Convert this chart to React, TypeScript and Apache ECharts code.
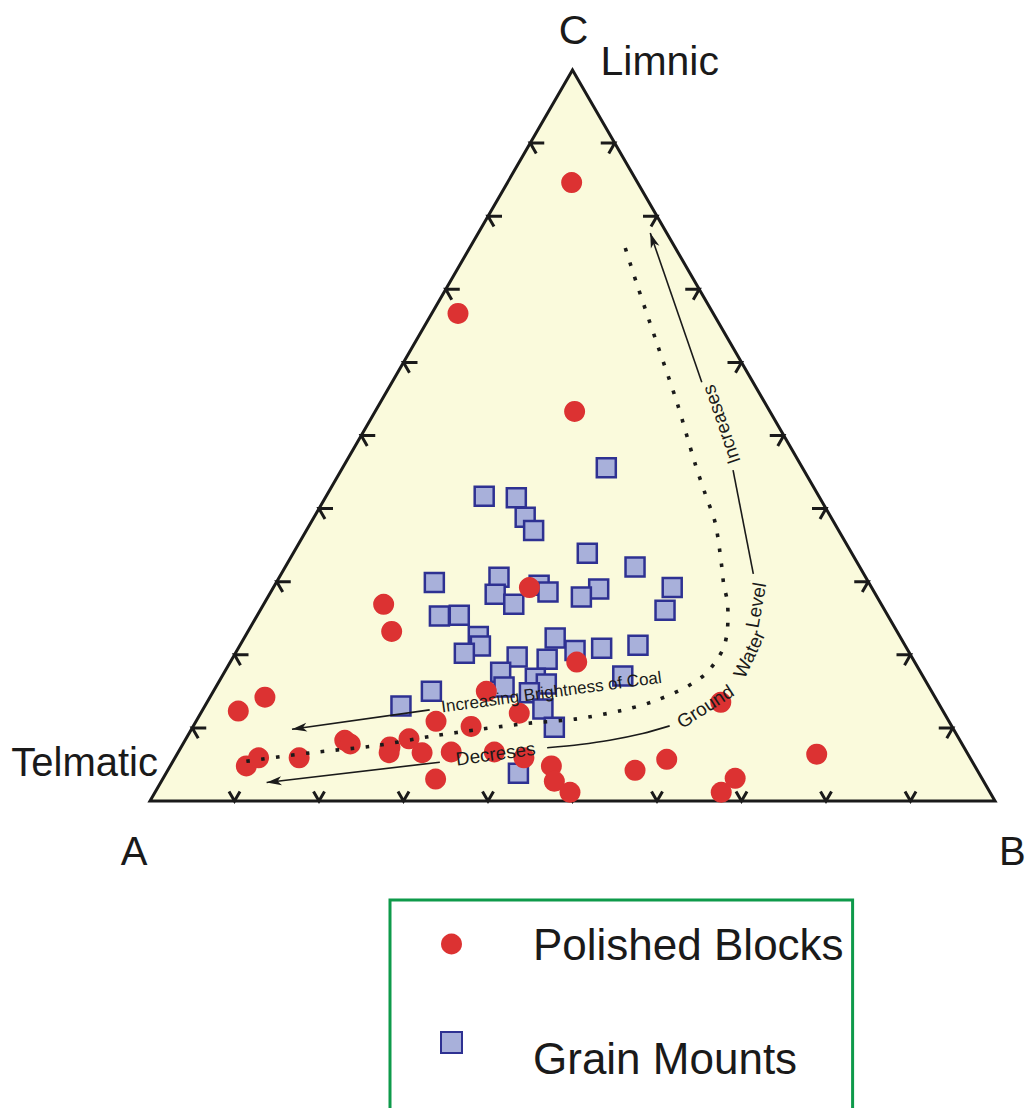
import React, { useEffect, useRef } from "react";
import * as echarts from "echarts";

// Sample compositions in percent: [A (Telmatic), B, C (Limnic)]
const polishedBlocks: number[][] = [
  [7.8, 7.6, 84.6],
  [30.2, 3.1, 66.7],
  [23.1, 23.6, 53.3],
  [58.9, 14.2, 26.9],
  [59.8, 17.0, 23.2],
  [40.5, 30.3, 29.2],
  [40.0, 41.0, 19.0],
  [52.7, 32.3, 15.0],
  [79.3, 6.5, 14.2],
  [83.4, 4.3, 12.3],
  [25.7, 60.8, 13.5],
  [60.7, 28.4, 10.9],
  [56.9, 32.9, 10.2],
  [50.3, 37.7, 12.0],
  [72.8, 18.9, 8.3],
  [72.4, 19.8, 7.8],
  [67.9, 24.7, 7.4],
  [68.4, 25.0, 6.6],
  [65.1, 26.4, 8.5],
  [64.5, 28.9, 6.6],
  [61.0, 32.3, 6.7],
  [55.9, 37.4, 6.7],
  [52.8, 41.3, 5.9],
  [86.2, 9.0, 4.8],
  [84.2, 9.9, 5.9],
  [79.4, 14.7, 5.9],
  [64.7, 32.3, 3.0],
  [50.1, 45.1, 4.8],
  [50.8, 46.5, 2.7],
  [49.7, 49.1, 1.2],
  [40.5, 55.3, 4.2],
  [36.0, 58.3, 5.7],
  [29.2, 67.7, 3.1],
  [31.8, 67.0, 1.2],
  [17.9, 75.7, 6.4],
];

const grainMounts: number[][] = [
  [23.2, 31.2, 45.6],
  [39.6, 18.7, 41.7],
  [35.9, 22.6, 41.5],
  [36.2, 25.0, 38.8],
  [36.1, 26.9, 37.0],
  [31.3, 34.8, 33.9],
  [26.6, 41.4, 32.0],
  [51.4, 18.7, 29.9],
  [43.4, 26.0, 30.6],
  [45.0, 26.7, 28.3],
  [43.5, 29.6, 26.9],
  [39.2, 31.3, 29.5],
  [38.6, 32.8, 28.6],
  [32.4, 38.6, 29.0],
  [35.0, 37.1, 27.9],
  [23.6, 47.2, 29.2],
  [26.0, 47.9, 26.1],
  [53.1, 21.6, 25.3],
  [50.7, 23.9, 25.4],
  [49.9, 27.6, 22.5],
  [50.3, 28.5, 21.2],
  [52.7, 27.1, 20.2],
  [46.7, 33.6, 19.7],
  [40.9, 36.8, 22.3],
  [39.4, 40.0, 20.6],
  [43.3, 37.3, 19.4],
  [36.1, 43.0, 20.9],
  [31.6, 47.1, 21.3],
  [49.7, 32.7, 17.6],
  [50.3, 34.1, 15.6],
  [46.0, 37.2, 16.8],
  [45.1, 38.9, 16.0],
  [47.7, 37.5, 14.8],
  [35.5, 47.4, 17.1],
  [59.2, 25.8, 15.0],
  [63.8, 23.2, 13.0],
  [47.2, 40.2, 12.6],
  [47.1, 42.8, 10.1],
  [54.5, 41.7, 3.8],
];

const tickPercents = [10, 20, 30, 40, 50, 60, 70, 80, 90];

const seriesNames = ["Polished Blocks", "Grain Mounts"];

// Trend annotations in plot units: x runs from A to B, y upward, side length 1
const waterLevelSegments: number[][][] = [
  [[0.592, 0.673], [0.653, 0.496]],
  [[0.69, 0.392], [0.714, 0.269]],
  [[0.615, 0.089], [0.583, 0.08], [0.544, 0.072], [0.509, 0.067], [0.47, 0.063]],
  [[0.343, 0.046], [0.138, 0.022]],
];

const brightnessArrow: number[][] = [[0.331, 0.108], [0.168, 0.085]];

const brightnessTrend: number[][] = [
  [0.114, 0.047], [0.189, 0.057], [0.263, 0.065], [0.335, 0.077], [0.391, 0.085],
  [0.447, 0.092], [0.503, 0.097], [0.557, 0.107], [0.593, 0.117], [0.627, 0.131],
  [0.643, 0.14], [0.658, 0.151], [0.67, 0.166], [0.679, 0.182], [0.683, 0.2],
  [0.684, 0.22], [0.683, 0.238], [0.679, 0.256], [0.677, 0.275], [0.669, 0.329],
  [0.657, 0.364], [0.645, 0.4], [0.624, 0.471], [0.6, 0.542], [0.576, 0.613],
  [0.559, 0.666],
];

const trendLabels = [
  { text: "Increases", at: [0.676, 0.446], angle: 109, size: 19 },
  { text: "Level", at: [0.717, 0.232], angle: 80, size: 19 },
  { text: "Water", at: [0.709, 0.174], angle: 65, size: 19 },
  { text: "Ground", at: [0.657, 0.112], angle: 33, size: 19 },
  { text: "Decreses", at: [0.409, 0.056], angle: 8, size: 19 },
  { text: "Increasing Brightness of Coal", at: [0.475, 0.129], angle: 7.7, size: 17 },
];

const INK = "#1a1a1a";
const FONT = '"Liberation Sans", Arial, sans-serif';
const SQRT3_2 = Math.sqrt(3) / 2;

function toXY(t: number[]): number[] {
  const s = t[0] + t[1] + t[2];
  return [(t[1] + t[2] / 2) / s, (t[2] / s) * SQRT3_2];
}

function label(x: number, y: number, text: string, size: number, align: string, angle = 0) {
  return {
    type: "text",
    x,
    y,
    rotation: (angle * Math.PI) / 180,
    style: {
      text,
      fill: INK,
      fontSize: size,
      fontFamily: FONT,
      align,
      verticalAlign: "middle",
    },
  };
}

function arrowHead(tip: number[], from: number[]) {
  const dx = tip[0] - from[0];
  const dy = tip[1] - from[1];
  const len = Math.hypot(dx, dy) || 1;
  const ux = dx / len;
  const uy = dy / len;
  const nx = -uy;
  const ny = ux;
  const L = 15;
  const W = 4.5;
  return {
    type: "polygon",
    shape: {
      points: [
        tip,
        [tip[0] - L * ux + W * nx, tip[1] - L * uy + W * ny],
        [tip[0] - 11 * ux, tip[1] - 11 * uy],
        [tip[0] - L * ux - W * nx, tip[1] - L * uy - W * ny],
      ],
    },
    style: { fill: INK, stroke: "none" },
  };
}

function renderFrame(_params: any, api: any) {
  const P = (t: number[]) => api.coord(toXY(t));
  const A = P([100, 0, 0]);
  const B = P([0, 100, 0]);
  const C = P([0, 0, 100]);
  const tickStyle = { stroke: INK, lineWidth: 3, fill: "none" };
  const children: any[] = [
    {
      type: "polygon",
      shape: { points: [A, B, C] },
      style: { fill: "#fafadc", stroke: INK, lineWidth: 3, lineJoin: "miter" },
    },
  ];
  const c60 = 0.5;
  tickPercents.forEach((p) => {
    const q = 100 - p;
    const b = P([q, p, 0]);
    children.push({
      type: "polyline",
      shape: { points: [[b[0] - 11 * c60, b[1] - 11 * SQRT3_2], b, [b[0] + 11 * c60, b[1] - 11 * SQRT3_2]] },
      style: tickStyle,
    });
    const l = P([q, 0, p]);
    children.push({
      type: "polyline",
      shape: { points: [[l[0] + 14, l[1]], l, [l[0] + 12 * c60, l[1] + 12 * SQRT3_2]] },
      style: tickStyle,
    });
    const r = P([0, q, p]);
    children.push({
      type: "polyline",
      shape: { points: [[r[0] - 14, r[1]], r, [r[0] - 12 * c60, r[1] + 12 * SQRT3_2]] },
      style: tickStyle,
    });
  });
  children.push(label(C[0] + 1, C[1] - 40, "C", 41, "center"));
  children.push(label(C[0] + 28, C[1] - 9, "Limnic", 41, "left"));
  children.push(label(A[0] + 8, A[1] - 39, "Telmatic", 40, "right"));
  children.push(label(A[0] - 16, A[1] + 50, "A", 40, "center"));
  children.push(label(B[0] + 4, B[1] + 50, "B", 40, "left"));
  return { type: "group", children };
}

function renderTrends(_params: any, api: any) {
  const P = (p: number[]) => api.coord(p);
  const lineStyle = { stroke: INK, lineWidth: 1.6, fill: "none" };
  const children: any[] = [];
  children.push({
    type: "polyline",
    shape: { points: brightnessTrend.map(P), smooth: 0.3 },
    style: { stroke: INK, lineWidth: 3.6, lineDash: [3.6, 11.4], fill: "none" },
  });
  waterLevelSegments.forEach((seg) => {
    children.push({ type: "polyline", shape: { points: seg.map(P), smooth: 0.3 }, style: lineStyle });
  });
  const first = waterLevelSegments[0];
  children.push(arrowHead(P(first[0]), P(first[1])));
  const last = waterLevelSegments[waterLevelSegments.length - 1];
  children.push(arrowHead(P(last[last.length - 1]), P(last[last.length - 2])));
  children.push({ type: "polyline", shape: { points: brightnessArrow.map(P) }, style: lineStyle });
  children.push(arrowHead(P(brightnessArrow[1]), P(brightnessArrow[0])));
  trendLabels.forEach((t) => {
    const p = P(t.at);
    children.push(label(p[0], p[1], t.text, t.size, "center", t.angle));
  });
  return { type: "group", children };
}

export default function App() {
  const ref = useRef<HTMLDivElement>(null);

  useEffect(() => {
    if (!ref.current) return;
    const chart = echarts.init(ref.current, undefined, { renderer: "svg" });
    chart.setOption({
      animation: false,
      backgroundColor: "#ffffff",
      grid: { left: 150, right: 32, top: 70, bottom: 307 },
      xAxis: { type: "value", min: 0, max: 1, show: false },
      yAxis: { type: "value", min: 0, max: SQRT3_2, show: false },
      legend: {
        orient: "vertical",
        left: 390,
        top: 900,
        height: 500,
        padding: [22, 9, 90, 50],
        itemWidth: 21,
        itemHeight: 21,
        itemGap: 65,
        borderColor: "#0e9a4a",
        borderWidth: 3,
        data: seriesNames,
        formatter: (name: string) => (name === seriesNames[1] ? `{low|${name}}` : name),
        textStyle: {
          fontSize: 44,
          fontFamily: FONT,
          color: INK,
          padding: [0, 0, 0, 66],
          rich: {
            low: {
              fontSize: 44,
              fontFamily: FONT,
              color: INK,
              padding: [32, 0, 0, 0],
            },
          },
        },
      },
      series: [
        {
          type: "custom",
          name: "frame",
          z: 1,
          silent: true,
          renderItem: renderFrame,
          data: [[0, 0]],
        },
        {
          type: "scatter",
          name: seriesNames[1],
          z: 2,
          symbol: "rect",
          symbolSize: 19,
          itemStyle: { color: "#a8b0da", borderColor: "#2e3192", borderWidth: 2.5, opacity: 1 },
          data: grainMounts.map(toXY),
        },
        {
          type: "scatter",
          name: seriesNames[0],
          z: 3,
          symbol: "circle",
          symbolSize: 21,
          itemStyle: { color: "#dc3232", opacity: 1 },
          data: polishedBlocks.map(toXY),
        },
        {
          type: "custom",
          name: "trends",
          z: 4,
          silent: true,
          renderItem: renderTrends,
          data: [[0, 0]],
        },
      ],
    });
    return () => chart.dispose();
  }, []);

  return (
    <div
      ref={ref}
      style={{ position: "absolute", left: 0, top: 0, width: 1027, height: 1108 }}
    />
  );
}
